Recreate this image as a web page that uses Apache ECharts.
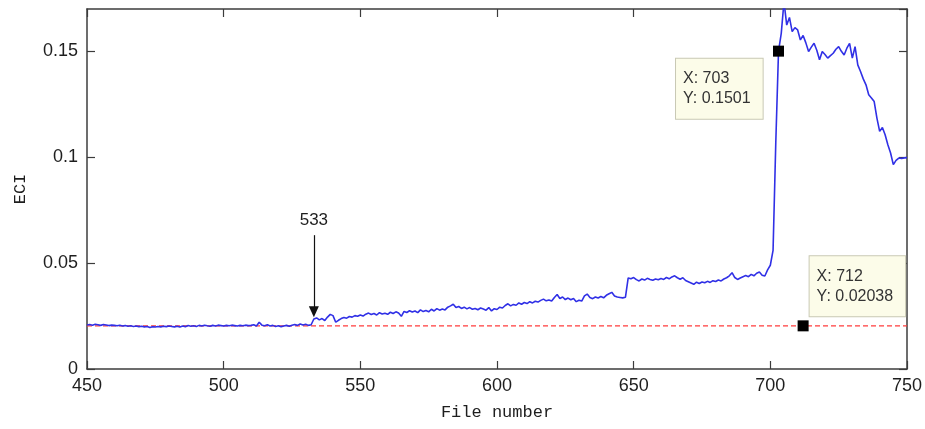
<!DOCTYPE html>
<html>
<head>
<meta charset="utf-8">
<script src="https://cdn.jsdelivr.net/npm/echarts@6/dist/echarts.min.js"></script>
<style>
  html, body { margin: 0; padding: 0; background: #ffffff; }
  #chart { width: 925px; height: 429px; }
</style>
</head>
<body>
<div id="chart"></div>
<script>
// ECI per file, one value per file number starting at firstFile
const firstFile = 450;
const eci = [
  0.0208, 0.0210, 0.0207, 0.0211, 0.0209, 0.0206, 0.0210, 0.0208, 0.0205, 0.0207, // 450
  0.0206, 0.0204, 0.0207, 0.0203, 0.0205, 0.0202, 0.0204, 0.0201, 0.0203, 0.0200, // 460
  0.0202, 0.0199, 0.0201, 0.0196, 0.0200, 0.0198, 0.0201, 0.0199, 0.0202, 0.0200, // 470
  0.0203, 0.0201, 0.0199, 0.0202, 0.0198, 0.0203, 0.0200, 0.0205, 0.0202, 0.0204, // 480
  0.0201, 0.0206, 0.0203, 0.0207, 0.0204, 0.0202, 0.0206, 0.0203, 0.0207, 0.0205, // 490
  0.0203, 0.0206, 0.0204, 0.0207, 0.0205, 0.0203, 0.0206, 0.0204, 0.0207, 0.0205, // 500
  0.0206, 0.0209, 0.0203, 0.0221, 0.0207, 0.0204, 0.0209, 0.0203, 0.0206, 0.0201, // 510
  0.0204, 0.0200, 0.0203, 0.0206, 0.0202, 0.0207, 0.0210, 0.0206, 0.0213, 0.0208, // 520
  0.0211, 0.0206, 0.0209, 0.0236, 0.0241, 0.0232, 0.0238, 0.0229, 0.0245, 0.0258, // 530
  0.0252, 0.0221, 0.0230, 0.0238, 0.0243, 0.0240, 0.0248, 0.0245, 0.0252, 0.0249, // 540
  0.0255, 0.0250, 0.0259, 0.0264, 0.0257, 0.0262, 0.0255, 0.0266, 0.0260, 0.0263, // 550
  0.0258, 0.0268, 0.0262, 0.0270, 0.0264, 0.0249, 0.0272, 0.0267, 0.0275, 0.0269, // 560
  0.0274, 0.0266, 0.0279, 0.0271, 0.0276, 0.0270, 0.0282, 0.0274, 0.0285, 0.0278, // 570
  0.0283, 0.0279, 0.0292, 0.0298, 0.0306, 0.0290, 0.0295, 0.0286, 0.0292, 0.0284, // 580
  0.0290, 0.0282, 0.0286, 0.0280, 0.0288, 0.0283, 0.0278, 0.0290, 0.0274, 0.0285, // 590
  0.0281, 0.0292, 0.0288, 0.0300, 0.0308, 0.0298, 0.0305, 0.0301, 0.0312, 0.0306, // 600
  0.0314, 0.0309, 0.0318, 0.0312, 0.0320, 0.0316, 0.0324, 0.0330, 0.0322, 0.0326, // 610
  0.0321, 0.0338, 0.0352, 0.0333, 0.0340, 0.0328, 0.0335, 0.0327, 0.0333, 0.0318, // 620
  0.0325, 0.0321, 0.0345, 0.0354, 0.0338, 0.0332, 0.0340, 0.0335, 0.0342, 0.0336, // 630
  0.0348, 0.0355, 0.0362, 0.0345, 0.0340, 0.0338, 0.0336, 0.0339, 0.0430, 0.0426, // 640
  0.0432, 0.0422, 0.0416, 0.0425, 0.0420, 0.0428, 0.0423, 0.0419, 0.0425, 0.0421, // 650
  0.0427, 0.0423, 0.0432, 0.0426, 0.0435, 0.0440, 0.0431, 0.0424, 0.0431, 0.0418, // 660
  0.0412, 0.0406, 0.0400, 0.0410, 0.0404, 0.0411, 0.0407, 0.0414, 0.0409, 0.0417, // 670
  0.0413, 0.0420, 0.0416, 0.0425, 0.0431, 0.0440, 0.0455, 0.0432, 0.0423, 0.0430, // 680
  0.0436, 0.0441, 0.0436, 0.0447, 0.0440, 0.0452, 0.0458, 0.0443, 0.0439, 0.0468, // 690
  0.0490, 0.0560, 0.1070, 0.1501, 0.1585, 0.1735, 0.1624, 0.1660, 0.1593, 0.1612, // 700
  0.1601, 0.1554, 0.1575, 0.1540, 0.1499, 0.1520, 0.1538, 0.1505, 0.1460, 0.1499, // 710
  0.1485, 0.1468, 0.1480, 0.1491, 0.1510, 0.1522, 0.1500, 0.1483, 0.1515, 0.1538, // 720
  0.1468, 0.1522, 0.1436, 0.1405, 0.1370, 0.1342, 0.1295, 0.1280, 0.1263, 0.1185, // 730
  0.1122, 0.1140, 0.1106, 0.1059, 0.1020, 0.0965, 0.0985, 0.0996, 0.0994, 0.0997, // 740
  0.0998                                                                          // 750
];

// Baseline threshold (dashed red)
const threshold = 0.02038;

// Data tips
const tipPoints = [
  { file: 703, value: 0.1501, offset: [-97, 13] },
  { file: 712, value: 0.02038, offset: [12, -64] }
];

// Onset annotation
const onsetFile = 533;
const onsetArrowFrom = 0.0632;
const onsetArrowTo = 0.0270;

// Axis ticks
const xTicks = { min: 450, max: 750, step: 50 };
const yTicks = { min: 0, max: 0.17, step: 0.05 };

const eciSeries = eci.map((v, i) => [firstFile + i, v]);
const thresholdSeries = [[xTicks.min, threshold], [xTicks.max, threshold]];

const axisColor = '#3c3c3c';
const textColor = '#1e1e1e';
const sansFont = '"Liberation Sans", Arial, sans-serif';
const monoFont = '"Liberation Mono", "DejaVu Sans Mono", monospace';

function frameAxis(extra) {
  return Object.assign({
    type: 'value',
    axisLine: { show: true, onZero: false, lineStyle: { color: axisColor, width: 1.5 } },
    axisTick: { show: true, inside: true, length: 8, lineStyle: { color: axisColor, width: 1.2 } },
    splitLine: { show: false },
    axisLabel: { show: false }
  }, extra);
}

const chart = echarts.init(document.getElementById('chart'), null, { renderer: 'canvas' });

chart.setOption({
  animation: false,
  backgroundColor: '#ffffff',
  grid: { left: 87, right: 18, top: 9, bottom: 60, containLabel: false },
  xAxis: [
    frameAxis({
      min: xTicks.min, max: xTicks.max, interval: xTicks.step,
      position: 'bottom',
      name: 'File number',
      nameLocation: 'middle',
      nameGap: 35,
      nameTextStyle: { fontFamily: monoFont, fontSize: 17, color: textColor },
      axisLabel: { show: true, margin: 8, fontFamily: sansFont, fontSize: 18, color: textColor }
    }),
    frameAxis({
      min: xTicks.min, max: xTicks.max, interval: xTicks.step,
      position: 'top'
    })
  ],
  yAxis: [
    frameAxis({
      min: yTicks.min, max: yTicks.max, interval: yTicks.step,
      position: 'left',
      name: 'ECI',
      nameLocation: 'middle',
      nameGap: 58,
      nameRotate: 90,
      nameTextStyle: { fontFamily: monoFont, fontSize: 17, color: textColor },
      axisLabel: { show: true, margin: 9, showMaxLabel: false, fontFamily: sansFont, fontSize: 18, color: textColor }
    }),
    frameAxis({
      min: yTicks.min, max: yTicks.max, interval: yTicks.step,
      position: 'right'
    })
  ],
  series: [
    {
      name: 'threshold',
      type: 'line',
      data: thresholdSeries,
      showSymbol: false,
      silent: true,
      lineStyle: { color: '#ff3c3c', width: 1.1, type: [5, 3] },
      z: 2
    },
    {
      name: 'ECI',
      type: 'line',
      data: eciSeries,
      showSymbol: false,
      clip: true,
      silent: true,
      lineStyle: { color: '#3030e6', width: 1.6 },
      z: 3,
      markLine: {
        silent: true,
        symbol: ['none', 'triangle'],
        symbolSize: [10, 11],
        lineStyle: { color: '#111111', width: 1.2, type: 'solid' },
        label: {
          show: true,
          position: 'start',
          distance: 6,
          formatter: String(onsetFile),
          fontFamily: sansFont,
          fontSize: 17,
          color: textColor
        },
        data: [[
          { coord: [onsetFile, onsetArrowFrom] },
          { coord: [onsetFile, onsetArrowTo] }
        ]]
      }
    },
    {
      name: 'tips',
      type: 'scatter',
      symbol: 'rect',
      symbolSize: 11,
      silent: true,
      z: 5,
      itemStyle: { color: '#000000', opacity: 1 },
      data: tipPoints.map(p => ({
        value: [p.file, p.value],
        label: {
          show: true,
          position: p.offset,
          align: 'left',
          verticalAlign: 'top',
          formatter: 'X: ' + p.file + '\nY: ' + p.value,
          fontFamily: sansFont,
          fontSize: 16,
          lineHeight: 20,
          color: '#333333',
          backgroundColor: '#fcfce9',
          borderColor: '#c9c9b4',
          borderWidth: 1,
          padding: [10, 12, 10, 7]
        }
      }))
    }
  ]
});
</script>
</body>
</html>
